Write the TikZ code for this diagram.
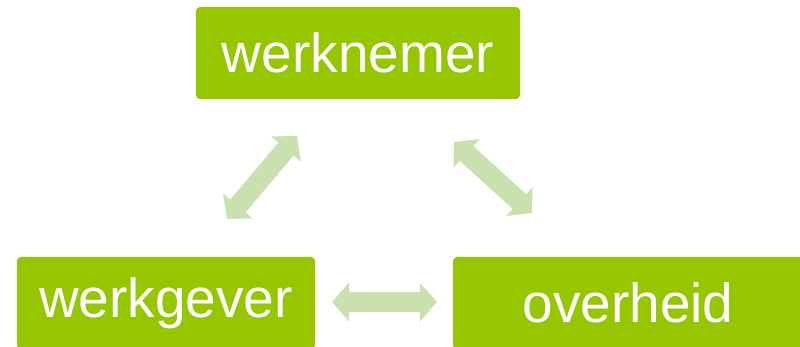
\documentclass[tikz,border=0pt]{standalone}
\usepackage{fontspec}
\setmainfont{Liberation Sans}
\usetikzlibrary{arrows.meta}
\definecolor{boxgreen}{RGB}{149,198,0}
\definecolor{arrowgreen}{RGB}{202,224,175}
\begin{document}
\begin{tikzpicture}[x=1pt,y=1pt,
  party/.style={fill=boxgreen, rounded corners=4pt, text=white, inner sep=0pt,
    font=\fontsize{55}{60}\selectfont, anchor=center},
  link/.style={draw=arrowgreen, line width=20pt,
    {Triangle[length=17pt,width=38pt]}-{Triangle[length=17pt,width=38pt]}}]
\useasboundingbox (0,0) rectangle (800,347);
\begin{scope}
\clip (0,0) rectangle (800,347);
\node[party, minimum width=324pt, minimum height=92pt] (wn) at (358,294) {werknemer};
\node[party, minimum width=298pt, minimum height=92pt] (wg) at (166,44) {werkgever};
\node[party, minimum width=350pt, minimum height=92pt] (oh) at (628,44) {overheid};
\end{scope}
\coordinate (a1) at (227,128);
\coordinate (a2) at (297,211);
\coordinate (b1) at (454,205);
\coordinate (b2) at (532,134);
\coordinate (c1) at (332,45);
\coordinate (c2) at (437,45);
\draw[link] (a1) -- (a2);
\draw[link] (b1) -- (b2);
\draw[link] (c1) -- (c2);
\end{tikzpicture}
\end{document}
